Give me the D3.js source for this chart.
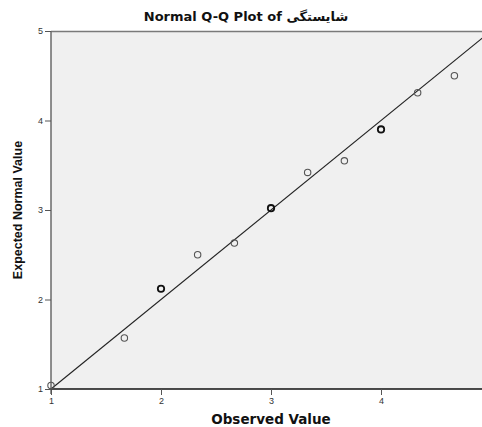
<!DOCTYPE html>
<html><head><meta charset="utf-8">
<script src="https://cdn.jsdelivr.net/npm/d3@7"></script>
<style>
body{margin:0;background:#fff;}
text{font-family:"Liberation Sans",Arial,"DejaVu Sans",sans-serif;}
.wide{font-family:"DejaVu Sans","Liberation Sans",sans-serif;}
</style></head>
<body><svg id="c" width="482" height="427"></svg>
<script>
const observed = [1, 1.667, 2, 2.333, 2.667, 3, 3.333, 3.667, 4, 4.333, 4.667];
const expected = [1.04, 1.57, 2.12, 2.50, 2.63, 3.02, 3.42, 3.55, 3.90, 4.31, 4.50];
const repeated = [false, false, true, false, false, true, false, false, true, false, false];
const xTicks = [1, 2, 3, 4];
const yTicks = [1, 2, 3, 4, 5];
const refLine = [1, 4.92];

const svg = d3.select("#c");
const m = {l: 51, t: 31, r: 482, b: 389};
const x = d3.scaleLinear().domain([1, 4.918]).range([m.l, m.r]);
const y = d3.scaleLinear().domain([1, 5]).range([m.b, m.t]);

svg.append("rect").attr("x", m.l).attr("y", m.t).attr("width", m.r - m.l).attr("height", m.b - m.t).attr("fill", "#f0f0f0");
svg.append("line").attr("x1", m.l).attr("x2", m.r).attr("y1", m.t + 0.5).attr("y2", m.t + 0.5).attr("stroke", "#7a7a7a").attr("stroke-width", 1.5);

const yAx = svg.append("g").attr("transform", `translate(${m.l},0)`)
  .call(d3.axisLeft(y).tickValues(yTicks).tickSize(6).tickPadding(2).tickFormat(d3.format("d")));
yAx.select(".domain").attr("stroke", "#6a6a6a").attr("stroke-width", 1.5).attr("d", `M0,${m.t}V${m.b+5}`);
yAx.selectAll(".tick line").attr("stroke", "#555");
yAx.selectAll(".tick text").attr("font-size", 9).attr("fill", "#333");

const xAx = svg.append("g").attr("transform", `translate(0,${m.b})`)
  .call(d3.axisBottom(x).tickValues(xTicks).tickSize(6).tickPadding(3).tickFormat(d3.format("d")));
xAx.select(".domain").attr("stroke", "#111").attr("stroke-width", 1.5).attr("d", `M${m.l},0H${m.r}`);
xAx.selectAll(".tick line").attr("stroke", "#555");
xAx.selectAll(".tick text").attr("font-size", 9).attr("fill", "#333");

svg.append("line")
  .attr("x1", x(refLine[0])).attr("y1", y(refLine[0]))
  .attr("x2", x(refLine[1])).attr("y2", y(refLine[1]))
  .attr("stroke", "#222").attr("stroke-width", 1.1);

svg.append("g").selectAll("circle").data(observed).join("circle")
  .attr("cx", (d) => x(d)).attr("cy", (d, i) => y(expected[i]))
  .attr("r", 3.2).attr("fill", "none")
  .attr("stroke", (d, i) => repeated[i] ? "#111" : "#555")
  .attr("stroke-width", (d, i) => repeated[i] ? 1.8 : 1.1);

svg.append("text").attr("class", "wide").attr("x", 246).attr("y", 21).attr("text-anchor", "middle")
  .attr("font-size", 13).attr("font-weight", "bold").attr("fill", "#111")
  .text("Normal Q-Q Plot of شایستگی");
svg.append("text").attr("class", "wide").attr("x", 271).attr("y", 424).attr("text-anchor", "middle")
  .attr("font-size", 13.5).attr("font-weight", "bold").attr("fill", "#111")
  .text("Observed Value");
svg.append("text").attr("transform", "translate(22,210) rotate(-90)").attr("text-anchor", "middle")
  .attr("font-size", 12.5).attr("font-weight", "bold").attr("fill", "#111")
  .text("Expected Normal Value");
</script></body></html>
